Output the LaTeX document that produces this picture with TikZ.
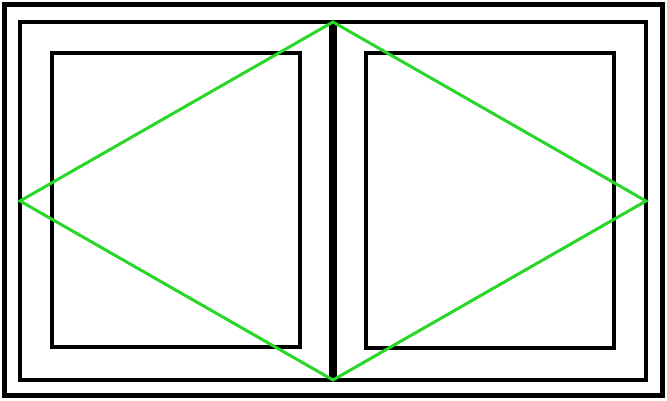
\documentclass[tikz,border=0pt]{standalone}
\begin{document}
\begin{tikzpicture}[x=1pt,y=-1pt,
  frame/.style={draw=black,line width=5.2pt,line join=miter},
  panel/.style={draw=black,line width=4.3pt},
  diag/.style={draw={rgb,255:red,40;green,215;blue,40},line width=3pt,line join=miter}]
\useasboundingbox[fill=white] (0,0) rectangle (667,401);
\draw[frame] (4.5,4.5) rectangle (662.5,395.5);
\draw[frame,line width=4.8pt] (20,22) rectangle (646,380);
\draw[panel] (52,53) rectangle (300,347);
\draw[panel] (366,53) rectangle (614,348);
\draw[black,line width=8pt] (333,22) -- (333,380);
\coordinate (L) at (20,201);
\coordinate (T) at (333,22);
\coordinate (R) at (646,201);
\coordinate (B) at (333,380);
\draw[diag] (L) -- (T) -- (R) -- (B) -- cycle;
\end{tikzpicture}
\end{document}
